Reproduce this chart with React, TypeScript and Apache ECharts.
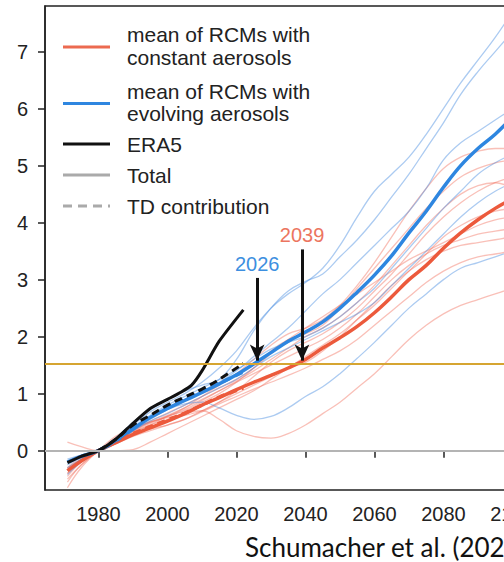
import React, { useEffect, useRef } from "react";
import * as echarts from "echarts";

const years = [1971, 1975, 1980, 1985, 1990, 1995, 2000, 2005, 2010, 2015, 2020, 2025, 2030, 2035, 2040, 2045, 2050, 2055, 2060, 2065, 2070, 2075, 2080, 2085, 2090, 2095, 2100];

const blueMean = [-0.2, -0.1, 0, 0.17, 0.38, 0.58, 0.74, 0.88, 1.02, 1.17, 1.33, 1.52, 1.72, 1.92, 2.08, 2.26, 2.5, 2.78, 3.08, 3.42, 3.82, 4.2, 4.62, 5.0, 5.3, 5.55, 5.85];
const redMean = [-0.35, -0.18, 0, 0.14, 0.28, 0.4, 0.52, 0.65, 0.8, 0.93, 1.07, 1.2, 1.32, 1.45, 1.6, 1.8, 1.98, 2.18, 2.42, 2.7, 3.0, 3.25, 3.55, 3.82, 4.05, 4.25, 4.42];

const blueMembers = [
  [-0.3, -0.15, 0, 0.2, 0.45, 0.68, 0.85, 1.0, 1.2, 1.45, 1.75, 2.15, 2.5, 2.75, 2.95, 3.2, 3.6, 4.1, 4.55, 4.85, 5.15, 5.55, 6.0, 6.45, 6.85, 7.25, 7.7],
  [-0.25, -0.12, 0, 0.22, 0.5, 0.72, 0.9, 1.05, 1.15, 1.25, 1.6, 2.1, 2.5, 2.8, 2.97, 3.1, 3.4, 3.7, 4.05, 4.45, 4.85, 5.3, 5.75, 6.25, 6.65, 7.0, 7.35],
  [-0.2, -0.1, 0, 0.18, 0.4, 0.6, 0.75, 0.9, 1.05, 1.2, 1.4, 1.65, 1.9, 2.15, 2.45, 2.75, 3.0, 3.3, 3.6, 3.9, 4.2, 4.6, 5.1, 5.4, 5.6, 5.8, 6.0],
  [-0.42, -0.2, 0, 0.15, 0.35, 0.55, 0.72, 0.82, 0.85, 0.75, 0.62, 0.55, 0.6, 0.75, 0.95, 1.12, 1.35, 1.62, 1.9, 2.2, 2.5, 2.75, 3.0, 3.2, 3.3, 3.4, 3.5],
  [-0.15, -0.08, 0, 0.2, 0.42, 0.62, 0.8, 0.95, 1.1, 1.25, 1.42, 1.6, 1.78, 1.9, 2.0, 2.15, 2.35, 2.6, 2.85, 3.2, 3.55, 3.9, 4.25, 4.55, 4.85, 5.05, 5.2],
  [-0.35, -0.15, 0, 0.15, 0.35, 0.52, 0.65, 0.8, 0.95, 1.1, 1.25, 1.45, 1.65, 1.8, 1.95, 2.1, 2.25, 2.4, 2.6, 2.9, 3.2, 3.5, 3.8, 4.1, 4.35, 4.55, 4.7],
];

const redMembers = [
  [-0.5, -0.25, 0, 0.2, 0.35, 0.5, 0.6, 0.75, 0.95, 1.15, 1.35, 1.6, 1.85, 2.05, 2.15, 2.3, 2.55, 2.9, 3.3, 3.75, 4.2, 4.6, 4.95, 5.15, 5.25, 5.3, 5.3],
  [-0.3, -0.15, 0, 0.15, 0.32, 0.45, 0.6, 0.7, 0.85, 1.0, 1.2, 1.45, 1.75, 1.95, 2.05, 2.2, 2.5, 2.85, 3.2, 3.55, 3.9, 4.25, 4.55, 4.8, 4.95, 5.05, 5.1],
  [-0.65, -0.3, 0, 0.25, 0.4, 0.5, 0.58, 0.62, 0.7, 0.85, 1.05, 1.3, 1.55, 1.75, 1.9, 2.05, 2.25, 2.5, 2.8, 3.1, 3.45, 3.8, 4.1, 4.35, 4.55, 4.7, 4.8],
  [0.15, 0.07, 0, 0.0, 0.02, 0.15, 0.3, 0.45, 0.6, 0.75, 0.9, 1.05, 1.25, 1.45, 1.65, 1.85, 2.05, 2.3, 2.55, 2.85, 3.15, 3.45, 3.75, 3.95, 4.1, 4.2, 4.25],
  [-0.4, -0.2, 0, 0.15, 0.3, 0.45, 0.55, 0.65, 0.7, 0.55, 0.35, 0.25, 0.22, 0.3, 0.45, 0.65, 0.85, 1.1, 1.35, 1.65, 1.95, 2.2, 2.4, 2.55, 2.65, 2.75, 2.85],
  [-0.45, -0.2, 0, 0.18, 0.35, 0.5, 0.62, 0.75, 0.9, 1.05, 1.2, 1.35, 1.5, 1.65, 1.8, 1.95, 2.15, 2.4, 2.7, 3.0, 3.25, 3.45, 3.6, 3.7, 3.8, 3.85, 3.9],
  [-0.35, -0.15, 0, 0.14, 0.27, 0.38, 0.45, 0.55, 0.7, 0.85, 1.0, 1.15, 1.3, 1.45, 1.55, 1.75, 2.0, 2.3, 2.6, 2.9, 3.15, 3.35, 3.5, 3.6, 3.65, 3.7, 3.75],
  [-0.55, -0.25, 0, 0.2, 0.38, 0.52, 0.66, 0.8, 0.95, 1.1, 1.25, 1.45, 1.7, 1.95, 2.15, 2.35, 2.55, 2.75, 2.95, 3.15, 3.35, 3.5, 3.65, 3.8, 3.95, 4.05, 4.1],
  [-0.3, -0.12, 0, 0.12, 0.25, 0.35, 0.45, 0.55, 0.68, 0.82, 0.95, 1.08, 1.2, 1.32, 1.45, 1.6, 1.75, 1.95, 2.2, 2.45, 2.7, 2.95, 3.15, 3.3, 3.4, 3.45, 3.5],
  [-0.4, -0.18, 0, 0.17, 0.33, 0.48, 0.6, 0.72, 0.88, 1.05, 1.22, 1.4, 1.6, 1.8, 2.0, 2.15, 2.35, 2.6, 2.9, 3.25, 3.6, 3.95, 4.25, 4.5, 4.65, 4.7, 4.6],
];

const era5Years = [1971, 1975, 1980, 1985, 1990, 1995, 2000, 2004, 2007, 2010, 2015, 2022];
const era5Values = [-0.21, -0.1, 0, 0.2, 0.48, 0.74, 0.9, 1.03, 1.15, 1.4, 1.92, 2.47];

const tdYears = [1980, 1985, 1990, 1995, 2000, 2005, 2010, 2015, 2022];
const era5TD = [0, 0.2, 0.45, 0.62, 0.8, 0.94, 1.08, 1.25, 1.53];
const redTD = [0, 0.15, 0.3, 0.42, 0.54, 0.66, 0.8, 0.94, 1.1];
const blueTD = [0, 0.18, 0.4, 0.6, 0.75, 0.9, 1.03, 1.18, 1.38];

const xTicks = [1980, 2000, 2020, 2040, 2060, 2080, 2100];
const yTicks = [0, 1, 2, 3, 4, 5, 6, 7];

const threshold = 1.53;
const crossings = [
  { year: 2026, top: 3.03, label: "2026", color: "#3d8fe0" },
  { year: 2039, top: 3.53, label: "2039", color: "#ec7560" },
];

const legendItems = [
  { lines: ["mean of RCMs with", "constant aerosols"], color: "#ec6a50", dash: false },
  { lines: ["mean of RCMs with", "evolving aerosols"], color: "#2e86e0", dash: false },
  { lines: ["ERA5"], color: "#111111", dash: false },
  { lines: ["Total"], color: "#aaaaaa", dash: false },
  { lines: ["TD contribution"], color: "#aaaaaa", dash: true },
];

const pairs = (xs: number[], vs: number[]) => xs.map((x, i) => [x, vs[i]]);

export default function App() {
  const ref = useRef<HTMLDivElement>(null);
  useEffect(() => {
    if (!ref.current) return;
    const chart = echarts.init(ref.current, null, { renderer: "svg" });
    const font = "'Liberation Sans', Arial, sans-serif";
    const series: any[] = [];

    series.push({
      type: "line",
      data: [],
      silent: true,
      z: 1,
      markLine: {
        silent: true,
        symbol: ["none", "none"],
        label: { show: false },
        animation: false,
        data: [
          { yAxis: 0, lineStyle: { color: "#b4b4b4", width: 2, type: "solid" } },
          { yAxis: threshold, lineStyle: { color: "#d6a531", width: 2.2, type: "solid" } },
        ],
      },
    });

    redMembers.forEach((m, i) =>
      series.push({
        type: "line", name: "red" + i, data: pairs(years, m), smooth: 0.4, symbol: "none", z: 2,
        lineStyle: { color: "rgba(240,105,85,0.42)", width: 1.3 },
      })
    );
    blueMembers.forEach((m, i) =>
      series.push({
        type: "line", name: "blue" + i, data: pairs(years, m), smooth: 0.4, symbol: "none", z: 2,
        lineStyle: { color: "rgba(70,140,225,0.45)", width: 1.3 },
      })
    );
    series.push({
      type: "line", name: "redMean", data: pairs(years, redMean), smooth: 0.4, symbol: "none", z: 3,
      lineStyle: { color: "#ec5a3c", width: 3.5 },
    });
    series.push({
      type: "line", name: "blueMean", data: pairs(years, blueMean), smooth: 0.4, symbol: "none", z: 3,
      lineStyle: { color: "#2e86e0", width: 3.5 },
    });
    series.push({
      type: "line", name: "redTD", data: pairs(tdYears, redTD), smooth: 0.4, symbol: "none", z: 3,
      lineStyle: { color: "#ec5a3c", width: 3.5, type: [8, 5] },
    });
    series.push({
      type: "line", name: "blueTD", data: pairs(tdYears, blueTD), smooth: 0.4, symbol: "none", z: 3,
      lineStyle: { color: "#2e86e0", width: 3.5, type: [8, 5] },
    });
    series.push({
      type: "line", name: "ERA5", data: pairs(era5Years, era5Values), smooth: 0.2, symbol: "none", z: 4,
      lineStyle: { color: "#111", width: 3 },
    });
    series.push({
      type: "line", name: "ERA5 TD", data: pairs(tdYears, era5TD), smooth: 0.4, symbol: "none", z: 4,
      lineStyle: { color: "#111", width: 3, type: [8, 5] },
    });
    series.push({
      type: "line",
      data: [],
      silent: true,
      z: 5,
      markLine: {
        silent: true,
        symbol: ["none", "arrow"],
        symbolSize: [11, 16],
        animation: false,
        data: crossings.map((c) => [
          {
            coord: [c.year, c.top],
            lineStyle: { color: "#111", width: 3, type: "solid" },
            label: {
              show: true, position: "start", formatter: c.label, color: c.color,
              fontSize: 20, fontFamily: font, distance: 4,
            },
          },
          { coord: [c.year, threshold + 0.05] },
        ]),
      },
    });

    const graphics: any[] = [];
    const rows = [[34, 57], [91, 113], [144], [175], [206]];
    legendItems.forEach((it, i) => {
      const ys = rows[i];
      const my = ys.length === 2 ? (ys[0] + ys[1]) / 2 + 1.5 : ys[0];
      graphics.push({
        type: "line",
        shape: { x1: 63, y1: my, x2: 110, y2: my },
        style: { stroke: it.color, lineWidth: 3, lineDash: it.dash ? [9, 6] : null },
      });
      it.lines.forEach((t, j) =>
        graphics.push({
          type: "text", x: 127, y: ys[j],
          style: { text: t, fill: "#222", font: `21px ${font}`, textVerticalAlign: "middle", textAlign: "left" },
        })
      );
    });
    graphics.push({
      type: "text", x: 245, y: 547,
      style: { text: "Schumacher et al. (2024)", fill: "#111", font: "26px Lato, 'Open Sans', sans-serif", textVerticalAlign: "middle", textAlign: "left" },
    });

    chart.setOption({
      animation: false,
      backgroundColor: "#fff",
      grid: { left: 45, top: 6, width: 484.7, height: 484, show: true, borderColor: "#222", borderWidth: 1.5, backgroundColor: "transparent" },
      xAxis: {
        type: "value", min: 1964.5, max: 2105,
        axisLine: { show: true, lineStyle: { color: "#222", width: 1.5 } },
        axisTick: { show: true, customValues: xTicks, length: 7, lineStyle: { color: "#222", width: 1.5 } },
        axisLabel: { customValues: xTicks, formatter: (v: number) => String(v), color: "#222", fontSize: 20, fontFamily: font, margin: 14 },
        splitLine: { show: false },
      },
      yAxis: {
        type: "value", min: -0.69, max: 7.8,
        axisLine: { show: true, lineStyle: { color: "#222", width: 1.5 } },
        axisTick: { show: true, customValues: yTicks, length: 7, lineStyle: { color: "#222", width: 1.5 } },
        axisLabel: { customValues: yTicks, formatter: (v: number) => String(v), color: "#222", fontSize: 20, fontFamily: font, margin: 17 },
        splitLine: { show: false },
      },
      graphic: graphics,
      series,
    });
    return () => chart.dispose();
  }, []);
  return (
    <div style={{ position: "fixed", left: 0, top: 0, width: 504, height: 562, overflow: "hidden", background: "#fff" }}>
      <div ref={ref} style={{ width: 560, height: 562 }} />
    </div>
  );
}
